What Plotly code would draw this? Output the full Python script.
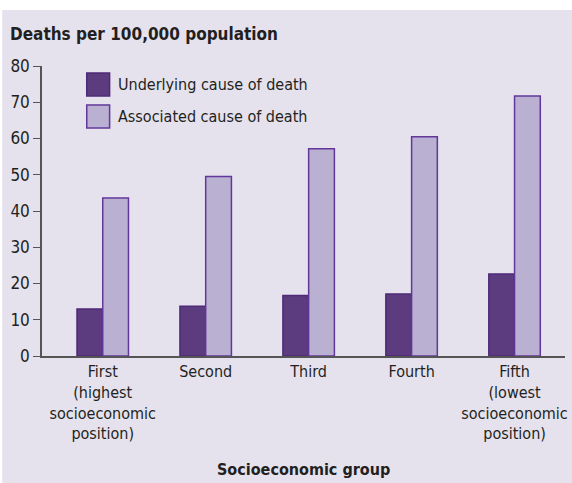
import plotly.graph_objects as go

groups = ["First<br>(highest<br>socioeconomic<br>position)", "Second", "Third", "Fourth",
          "Fifth<br>(lowest<br>socioeconomic<br>position)"]
series_names = ["Underlying cause of death", "Associated cause of death"]
underlying = [13.0, 13.7, 16.7, 17.1, 22.6]
associated = [43.6, 49.5, 57.2, 60.5, 71.7]

bg = "#e5e2ee"
dark, light = "#5c3b7e", "#bab0d1"
edges = ["#4e2a78", "#62379a"]
font = dict(family="DejaVu Sans Condensed, Roboto", size=16, color="#231f20")

# plot area in pixels: x 42..568, y 66..356.5
PW, PH = 526, 290.5


def px(x):
    return (x - 42) / PW


def py(y):
    return (356.5 - y) / PH


fig = go.Figure()
for name, vals, col, edge in zip(series_names, [underlying, associated], [dark, light], edges):
    fig.add_trace(go.Bar(x=list(range(5)), y=vals, name=name,
                         marker=dict(color=col, line=dict(color=edge, width=1.5))))

fig.update_layout(
    width=572, height=483,
    margin=dict(l=42, r=4, t=66, b=126.5),
    paper_bgcolor=bg, plot_bgcolor=bg,
    barmode="group", bargap=0.5, bargroupgap=0,
    font=font,
    showlegend=False,
    xaxis=dict(range=[-0.59, 4.49], tickmode="array", tickvals=list(range(5)), ticktext=groups,
               showline=True, linecolor="#555", linewidth=1.5, ticks="", showgrid=False,
               zeroline=False, ticklabeloverflow="allow", tickfont=dict(size=16)),
    yaxis=dict(range=[0, 80], dtick=10, showline=True, linecolor="#555", linewidth=1.5,
               ticks="outside", ticklen=7, tickcolor="#555", showgrid=False, zeroline=False,
               tickfont=dict(size=17)),
)

# white strips around the panel
fig.add_shape(type="rect", xref="paper", yref="paper", x0=px(-10), x1=px(600), y0=py(10), y1=py(-20),
              fillcolor="white", line=dict(width=0), layer="above")
fig.add_shape(type="rect", xref="paper", yref="paper", x0=px(-10), x1=px(2), y0=py(500), y1=py(-20),
              fillcolor="white", line=dict(width=0), layer="above")

# legend drawn as swatches + labels
for i, (name, col, edge) in enumerate(zip(series_names, [dark, light], edges)):
    top = 73 + 32 * i
    fig.add_shape(type="rect", xref="paper", yref="paper", x0=px(87), x1=px(110),
                  y0=py(top + 23), y1=py(top), fillcolor=col, line=dict(color=edge, width=1.5))
    fig.add_annotation(text=name, xref="paper", yref="paper", x=px(116), y=py(top + 11.5),
                       xanchor="left", yanchor="middle", showarrow=False, font=dict(size=16))

fig.add_annotation(text="<b>Deaths per 100,000 population</b>", xref="paper", yref="paper",
                   x=px(8), y=py(46), xanchor="left", yanchor="bottom", showarrow=False,
                   font=dict(size=17))
fig.add_annotation(text="<b>Socioeconomic group</b>", xref="paper", yref="paper",
                   x=px(305), y=py(459), xanchor="center", yanchor="top", showarrow=False,
                   font=dict(size=16))

fig.write_html("out.html", config={"displayModeBar": False},
               post_script="document.body.style.margin='0';")
